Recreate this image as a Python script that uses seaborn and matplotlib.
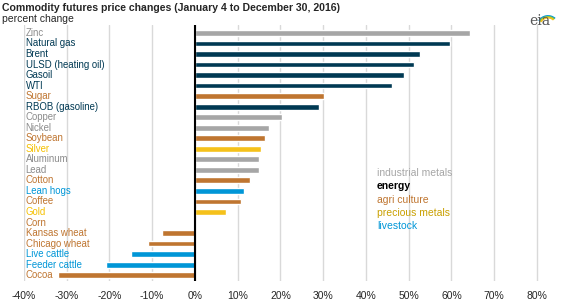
import numpy as np
import pandas as pd
import seaborn as sns
import matplotlib.pyplot as plt
from matplotlib.patches import Arc

commodities = ["Zinc", "Natural gas", "Brent", "ULSD (heating oil)", "Gasoil", "WTI",
               "Sugar", "RBOB (gasoline)", "Copper", "Nickel", "Soybean", "Silver",
               "Aluminum", "Lead", "Cotton", "Lean hogs", "Coffee", "Gold", "Corn",
               "Kansas wheat", "Chicago wheat", "Live cattle", "Feeder cattle", "Cocoa"]
changes = [64.3, 59.6, 52.6, 51.2, 48.9, 46.1,
           30.2, 29.1, 20.4, 17.4, 16.5, 15.5,
           14.9, 14.9, 12.8, 11.4, 10.7, 7.2, 0.0,
           -7.8, -11.0, -15.0, -20.8, -32.0]
groups = ["metals", "energy", "energy", "energy", "energy", "energy",
          "agri", "energy", "metals", "metals", "agri", "precious",
          "metals", "metals", "agri", "livestock", "agri", "precious", "agri",
          "agri", "agri", "livestock", "livestock", "agri"]

bar_colors = {"metals": "#a6a6a6", "energy": "#003953", "agri": "#bf7530",
              "precious": "#f5c11b", "livestock": "#0096d7"}
label_colors = {"metals": "#8c8c8c", "energy": "#003953", "agri": "#bf7530",
                "precious": "#f5c000", "livestock": "#0096d7"}

legend_names = ["industrial metals", "energy", "agri culture", "precious metals", "livestock"]
legend_colors = ["#a6a6a6", "#000000", "#bf7530", "#c9a000", "#0096d7"]

df = pd.DataFrame({"commodity": commodities, "change": changes, "group": groups})

sns.set_style("white")
plt.rcParams['font.family'] = ['Liberation Sans', 'DejaVu Sans']

fig = plt.figure(figsize=(5.71, 3.03), dpi=100)
ax = fig.add_axes([24 / 571, 1 - 281 / 303, (539 - 24) / 571, (281 - 25) / 303])

sns.barplot(data=df, y="commodity", x="change", hue="group", palette=bar_colors,
            dodge=False, width=0.55, orient="h", legend=False, ax=ax, saturation=1)

ax.set_xlim(-40, 80.5)
ax.set_ylim(len(commodities) - 0.45, -0.75)
ax.set_xticks(np.arange(-40, 81, 10))
ax.set_xticklabels([f"{v}%" for v in range(-40, 81, 10)], fontsize=7.5)
ax.tick_params(axis="x", length=0, pad=7)
ax.set_yticks([])
ax.set_xlabel("")
ax.set_ylabel("")
for s in ax.spines.values():
    s.set_visible(False)
ax.xaxis.grid(True, color="#d9d9d9", lw=1)
ax.set_axisbelow(True)
ax.axvline(0, color="black", lw=1.5, zorder=5)

for i, (name, g) in enumerate(zip(commodities, groups)):
    ax.text(-39.6, i, name, color=label_colors[g], fontsize=6.9, va="center", ha="left")

for j, (name, c) in enumerate(zip(legend_names, legend_colors)):
    ax.text(377 / 571, 1 - (173 + j * 13.3) / 303, name, color=c, fontsize=7.5,
            transform=fig.transFigure, va="center", ha="left",
            fontweight="bold" if name == "energy" else "normal")

fig.text(0.004, 1 - 8 / 303, "Commodity futures price changes (January 4 to December 30, 2016)",
         fontsize=7.6, fontweight="bold", va="center", ha="left")
fig.text(0.004, 1 - 19 / 303, "percent change", fontsize=7.5, va="center", ha="left")

# eia logo
fig.text(540 / 571, 1 - 21 / 303, "eia", fontsize=10, family="DejaVu Serif",
         color="#555555", va="center", ha="center")
for k, c in enumerate(["#0096d7", "#8dc63f", "#f5c11b"]):
    arc = Arc((548 / 571, 1 - 25 / 303), 0.035 - k * 0.004, 0.06 - k * 0.006,
              theta1=60, theta2=140, color=c, lw=1.2, transform=fig.transFigure)
    fig.add_artist(arc)

fig.savefig("out.png", dpi=100)
